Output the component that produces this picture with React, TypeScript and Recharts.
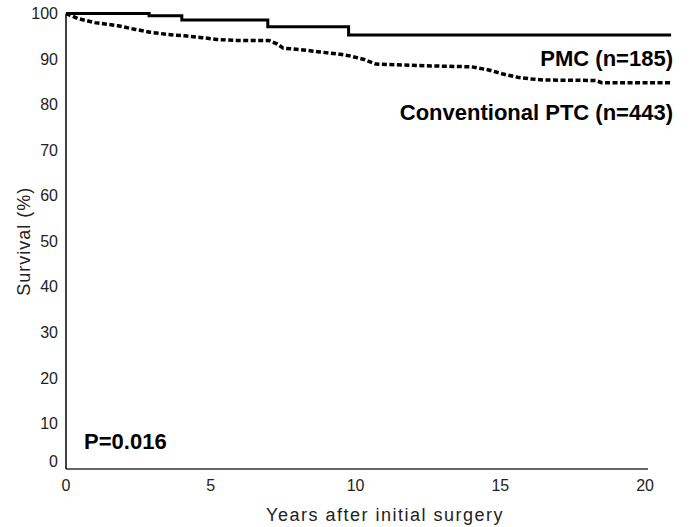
import { LineChart, Line, XAxis, YAxis, ReferenceLine, ReferenceDot } from 'recharts';

// Kaplan-Meier survival
const pmcYears = [0, 2.87, 4.0, 6.97, 9.76, 20.9];
const pmcSurvival = [100, 99.5, 98.6, 97.1, 95.3, 95.3];

const ptcYears = [
  0, 0.4, 1.0, 1.8, 2.4, 2.9, 3.5, 4.1, 4.7, 5.2, 5.9, 7.0, 7.3, 7.5, 8.2,
  8.7, 9.4, 9.8, 10.3, 10.7, 12.6, 14.0, 14.6, 15.1, 15.6, 16.1, 16.5, 18.3,
  18.5, 20.9,
];
const ptcSurvival = [
  100, 98.9, 98.0, 97.3, 96.5, 95.9, 95.4, 95.1, 94.7, 94.3, 94.1, 94.1, 93.3,
  92.4, 92.0, 91.6, 91.1, 90.7, 89.9, 88.9, 88.5, 88.3, 87.6, 86.7, 86.0, 85.6,
  85.4, 85.3, 84.8, 84.8,
];

const xTicks = [0, 5, 10, 15, 20];
const yTicks = [0, 10, 20, 30, 40, 50, 60, 70, 80, 90, 100];

const pmcData = pmcYears.map((t, i) => ({ t, s: pmcSurvival[i] }));
const ptcData = ptcYears.map((t, i) => ({ t, s: ptcSurvival[i] }));

const FONT = '"Liberation Sans", Arial, sans-serif';

function YTick(props: any) {
  const { x, y, payload } = props;
  // the "0" label sits a little above the axis line in the original
  const shift = payload.value === 0 ? -8 : 0;
  return (
    <text x={x} y={y + shift} dy="0.355em" textAnchor="end" fontSize={16} fill="#222" fontFamily={FONT}>
      {payload.value}
    </text>
  );
}

export default function App() {
  return (
    <div style={{ position: 'absolute', left: 0, top: 0, background: '#fff' }}>
      <LineChart width={695} height={527} margin={{ top: 13.5, right: 21, bottom: 0, left: 0 }}>
        <XAxis
          type="number"
          dataKey="t"
          domain={[0, 21]}
          ticks={xTicks}
          allowDataOverflow
          axisLine={false}
          tickLine={false}
          tickSize={0}
          tickMargin={11}
          height={58}
          tick={{ fontSize: 16, fill: '#222', fontFamily: FONT }}
          label={{
            value: 'Years after initial surgery',
            position: 'insideBottom',
            offset: 6,
            dx: 15,
            fontSize: 18,
            fill: '#222',
            fontFamily: FONT,
            letterSpacing: 1.5,
          }}
        />
        <YAxis
          type="number"
          domain={[0, 100]}
          ticks={yTicks}
          width={66}
          axisLine={{ stroke: '#000', strokeWidth: 1.5 }}
          tickLine={false}
          tickSize={0}
          tickMargin={8}
          tick={<YTick />}
          label={{
            value: 'Survival (%)',
            angle: -90,
            position: 'insideLeft',
            offset: 24,
            fontSize: 18,
            fill: '#222',
            fontFamily: FONT,
            letterSpacing: 1,
            style: { textAnchor: 'middle' },
          }}
        />
        <ReferenceLine
          segment={[{ x: 0, y: 0 }, { x: 20.1, y: 0 }]}
          stroke="#333"
          strokeWidth={1.5}
          ifOverflow="visible"
        />
        <Line
          data={ptcData}
          dataKey="s"
          type="linear"
          stroke="#000"
          strokeWidth={3.5}
          strokeDasharray="5 2.5"
          dot={false}
          isAnimationActive={false}
        />
        <Line
          data={pmcData}
          dataKey="s"
          type="stepAfter"
          stroke="#000"
          strokeWidth={3}
          dot={false}
          isAnimationActive={false}
        />
        <ReferenceDot
          x={21}
          y={90.2}
          r={1}
          fill="none"
          stroke="none"
          ifOverflow="visible"
          label={{ value: 'PMC (n=185)', position: 'left', offset: 0, fontSize: 22, fontWeight: 'bold', fill: '#000', fontFamily: FONT }}
        />
        <ReferenceDot
          x={21}
          y={78.4}
          r={1}
          fill="none"
          stroke="none"
          ifOverflow="visible"
          label={{ value: 'Conventional PTC (n=443)', position: 'left', offset: 0, fontSize: 22, fontWeight: 'bold', fill: '#000', fontFamily: FONT }}
        />
        <ReferenceDot
          x={0.59}
          y={6.1}
          r={1}
          fill="none"
          stroke="none"
          ifOverflow="visible"
          label={{ value: 'P=0.016', position: 'right', offset: 0, fontSize: 22, fontWeight: 'bold', fill: '#000', fontFamily: FONT }}
        />
      </LineChart>
    </div>
  );
}
